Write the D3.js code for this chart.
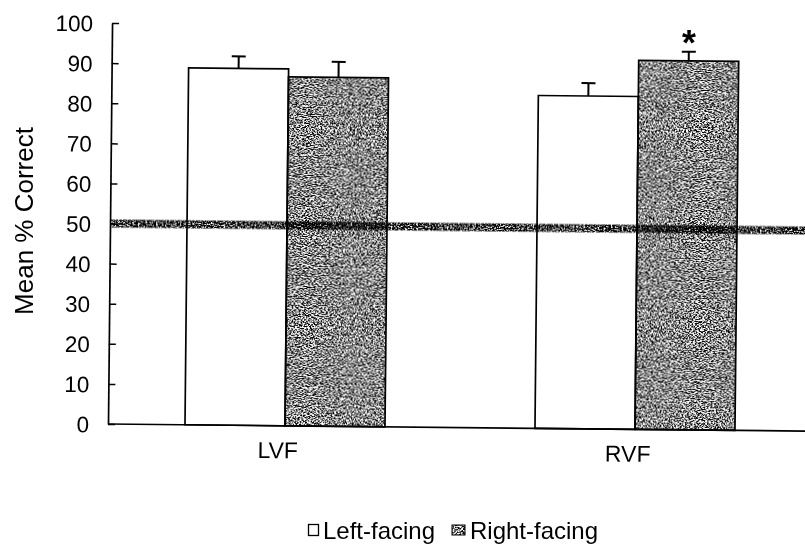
<!DOCTYPE html>
<html>
<head>
<meta charset="utf-8">
<script src="https://cdn.jsdelivr.net/npm/d3@7"></script>
<style>
  body { margin: 0; background: #fff; }
  svg { display: block; }
  text { font-family: "Liberation Sans", Arial, "DejaVu Sans", sans-serif; fill: #000; }
</style>
</head>
<body>
<script>
// Visual field by stimulus orientation
const categories = ["LVF", "RVF"];
const series = ["Left-facing", "Right-facing"];
const leftFacing = [89, 83];
const rightFacing = [87, 92];
const leftFacingErr = [3, 3.2];
const rightFacingErr = [3.9, 2.3];
const yTicks = [0, 10, 20, 30, 40, 50, 60, 70, 80, 90, 100];
const chanceLevel = 50;
const significant = [{ category: "RVF", series: "Right-facing" }];

const W = 805, H = 548;
const values = { "Left-facing": leftFacing, "Right-facing": rightFacing };
const errors = { "Left-facing": leftFacingErr, "Right-facing": rightFacingErr };

const rows = [];
categories.forEach((c, i) => series.forEach(s => rows.push({ category: c, series: s, value: values[s][i], err: errors[s][i] })));

const svg = d3.select("body").append("svg").attr("width", W).attr("height", H);
const defs = svg.append("defs");

// speckled grey fill
function grainFilter(id, seed, freq, gain, offset) {
  const f = defs.append("filter").attr("id", id)
    .attr("x", 0).attr("y", 0).attr("width", 1).attr("height", 1)
    .attr("color-interpolation-filters", "sRGB");
  f.append("feTurbulence").attr("type", "fractalNoise")
    .attr("baseFrequency", freq).attr("numOctaves", 2).attr("seed", seed).attr("result", "n");
  f.append("feColorMatrix").attr("in", "n").attr("type", "matrix")
    .attr("values", `${gain} 0 0 0 ${offset}  ${gain} 0 0 0 ${offset}  ${gain} 0 0 0 ${offset}  0 0 0 0 1`)
    .attr("result", "g");
  f.append("feComposite").attr("in", "g").attr("in2", "SourceGraphic").attr("operator", "in");
}
grainFilter("grainBar", 7, "0.55 0.9", 4.2, -1.55);
grainFilter("grainLine", 11, "0.55 0.9", 3.5, -1.55);

const x0 = 108, yBase = 424, yTop = 23;
const x = d3.scaleBand().domain(categories).range([110, 810]);
const xs = d3.scaleBand().domain(series).range([-100, 100]);
const y = d3.scaleLinear().domain([0, 100]).range([yBase, yTop]);

// whole plot sits on a slight tilt
const g = svg.append("g").attr("transform", `rotate(0.58, ${x0}, ${yBase})`);

// bars
const barX = d => x(d.category) + x.bandwidth() / 2 + xs(d.series);
g.selectAll("rect.bar").data(rows).join("rect")
  .attr("class", "bar")
  .attr("x", barX)
  .attr("y", d => y(d.value))
  .attr("width", xs.bandwidth())
  .attr("height", d => y(0) - y(d.value))
  .attr("fill", d => d.series === "Left-facing" ? "#fff" : "#777")
  .attr("filter", d => d.series === "Left-facing" ? null : "url(#grainBar)");
g.selectAll("rect.barEdge").data(rows).join("rect")
  .attr("class", "barEdge")
  .attr("x", barX)
  .attr("y", d => y(d.value))
  .attr("width", xs.bandwidth())
  .attr("height", d => y(0) - y(d.value))
  .attr("fill", "none").attr("stroke", "#000").attr("stroke-width", 1.7);

// upper error whiskers
const cx = d => barX(d) + xs.bandwidth() / 2;
const eb = g.selectAll("g.err").data(rows).join("g").attr("class", "err")
  .attr("stroke", "#000").attr("stroke-width", 2);
eb.append("line").attr("x1", cx).attr("x2", cx)
  .attr("y1", d => y(d.value)).attr("y2", d => y(d.value + d.err));
eb.append("line").attr("x1", d => cx(d) - 7).attr("x2", d => cx(d) + 7)
  .attr("y1", d => y(d.value + d.err)).attr("y2", d => y(d.value + d.err));

// significance marks
g.selectAll("text.sig").data(rows.filter(d => significant.some(s => s.category === d.category && s.series === d.series)))
  .join("text").attr("class", "sig")
  .attr("x", cx).attr("y", d => y(d.value + d.err) + 3)
  .attr("text-anchor", "middle").attr("font-size", 36).attr("font-weight", "bold").text("*");

// chance line
g.append("rect")
  .attr("x", x0).attr("y", y(chanceLevel) - 4)
  .attr("width", 720).attr("height", 8)
  .attr("fill", "#444").attr("filter", "url(#grainLine)")
  .style("mix-blend-mode", "multiply");

// y axis
const yAxis = g.append("g").attr("transform", `translate(${x0},0)`)
  .call(d3.axisLeft(y).tickValues(yTicks).tickSizeInner(-7).tickSizeOuter(0).tickPadding(19));
yAxis.select(".domain").attr("stroke", "#000").attr("stroke-width", 1.7);
yAxis.selectAll(".tick line").attr("stroke", "#000").attr("stroke-width", 1.5);
yAxis.selectAll(".tick text").attr("font-size", 22.5).attr("font-family", null).attr("dy", "0.36em");

// baseline
g.append("line").attr("x1", x0).attr("x2", 820).attr("y1", y(0)).attr("y2", y(0))
  .attr("stroke", "#000").attr("stroke-width", 1.7);

// category labels
g.selectAll("text.cat").data(categories).join("text").attr("class", "cat")
  .attr("x", d => x(d) + x.bandwidth() / 2 - 7).attr("y", 456.5)
  .attr("text-anchor", "middle").attr("font-size", 23).text(d => d);

// y title
svg.append("text").attr("transform", "translate(33,221) rotate(-90)")
  .attr("text-anchor", "middle").attr("font-size", 26).text("Mean % Correct");

// legend
const legend = svg.append("g");
legend.append("rect").attr("x", 308.5).attr("y", 524.5).attr("width", 10).attr("height", 11)
  .attr("fill", "#fff").attr("stroke", "#000").attr("stroke-width", 1.3);
legend.append("text").attr("x", 323).attr("y", 538.5).attr("font-size", 24).text(series[0]);
legend.append("rect").attr("x", 452).attr("y", 525).attr("width", 13).attr("height", 10)
  .attr("fill", "#777").attr("filter", "url(#grainBar)");
legend.append("rect").attr("x", 452).attr("y", 525).attr("width", 13).attr("height", 10)
  .attr("fill", "none").attr("stroke", "#000").attr("stroke-width", 1);
legend.append("text").attr("x", 470).attr("y", 538.5).attr("font-size", 24).text(series[1]);
</script>
</body>
</html>
